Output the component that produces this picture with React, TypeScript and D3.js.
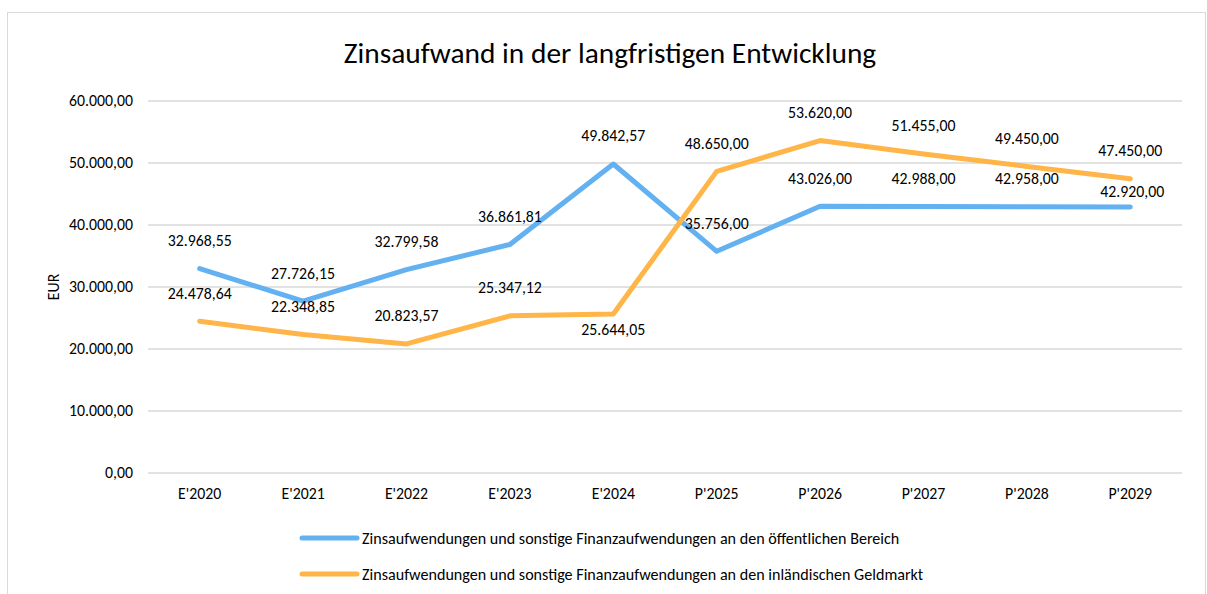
import React from "react";
import * as d3 from "d3";

const categories = ["E'2020", "E'2021", "E'2022", "E'2023", "E'2024", "P'2025", "P'2026", "P'2027", "P'2028", "P'2029"];
const seriesNames = [
  "Zinsaufwendungen und sonstige Finanzaufwendungen an den öffentlichen Bereich",
  "Zinsaufwendungen und sonstige Finanzaufwendungen an den inländischen Geldmarkt",
];
const publicValues = [32968.55, 27726.15, 32799.58, 36861.81, 49842.57, 35756.0, 43026.0, 42988.0, 42958.0, 42920.0];
const moneyMarketValues = [24478.64, 22348.85, 20823.57, 25347.12, 25644.05, 48650.0, 53620.0, 51455.0, 49450.0, 47450.0];
const yTicks = [0, 10000, 20000, 30000, 40000, 50000, 60000];
const colors = ["#63B1F1", "#FFB547"];
// label placement: "above", "below", "near" (just above)
const publicLabelPos = ["above", "above", "above", "above", "above", "above", "above", "above", "above", "near"];
const moneyLabelPos = ["above", "above", "above", "above", "below", "above", "above", "above", "above", "above"];

const W = 1207, H = 594;
const FONT = "Carlito, Calibri, Lato, sans-serif";
const FS = 15.8;

const fmt = (v: number) => {
  const [i, d] = v.toFixed(2).split(".");
  return i.replace(/\B(?=(\d{3})+(?!\d))/g, ".") + "," + d;
};

const offset = (p: string) => (p === "above" ? -22.5 : p === "below" ? 20.5 : -9.5);

export default function App() {
  const x = d3.scaleBand().domain(categories).range([148, 1182]);
  const y = d3.scaleLinear().domain([0, 60000]).range([473, 101]);
  const cx = (c: string) => (x(c) as number) + x.bandwidth() / 2;
  const line = d3.line<number>().x((_, i) => cx(categories[i])).y((v) => y(v));
  const all = [publicValues, moneyMarketValues];
  const pos = [publicLabelPos, moneyLabelPos];

  return (
    <svg width={W} height={H} style={{ position: "absolute", left: 0, top: 0 }} fontFamily={FONT}>
      <rect x={0} y={0} width={W} height={H} fill="#fff" />
      <rect x={7.5} y={12.5} width={1198} height={600} fill="#fff" stroke="#D9D9D9" strokeWidth={1} />
      <text x={610} y={63} textAnchor="middle" fontSize={29.4} fill="#000">
        Zinsaufwand in der langfristigen Entwicklung
      </text>
      {yTicks.map((t) => (
        <g key={t}>
          <line x1={148} x2={1182} y1={y(t)} y2={y(t)} stroke="#D9D9D9" strokeWidth={1.3} />
          <text x={133} y={y(t) + 5} textAnchor="end" fontSize={FS} fill="#000">
            {fmt(t)}
          </text>
        </g>
      ))}
      {categories.map((c) => (
        <text key={c} x={cx(c)} y={498.5} textAnchor="middle" fontSize={FS} fill="#000">
          {c}
        </text>
      ))}
      <text transform={`translate(59,287) rotate(-90)`} textAnchor="middle" fontSize={FS} fill="#000">
        EUR
      </text>
      {all.map((vals, s) => (
        <path
          key={s}
          d={line(vals) as string}
          fill="none"
          stroke={colors[s]}
          strokeWidth={5}
          strokeLinecap="round"
          strokeLinejoin="round"
        />
      ))}
      {all.map((vals, s) =>
        vals.map((v, i) => (
          <text
            key={`${s}-${i}`}
            x={cx(categories[i]) + (pos[s][i] === "near" ? 2 : 0)}
            y={y(v) + offset(pos[s][i])}
            textAnchor="middle"
            fontSize={FS}
            fill="#000"
          >
            {fmt(v)}
          </text>
        ))
      )}
      {seriesNames.map((n, s) => (
        <g key={n}>
          <line x1={302} x2={357} y1={538 + s * 36} y2={538 + s * 36} stroke={colors[s]} strokeWidth={5} strokeLinecap="round" />
          <text x={362} y={543.5 + s * 36} fontSize={16.1} fill="#000">
            {n}
          </text>
        </g>
      ))}
    </svg>
  );
}
